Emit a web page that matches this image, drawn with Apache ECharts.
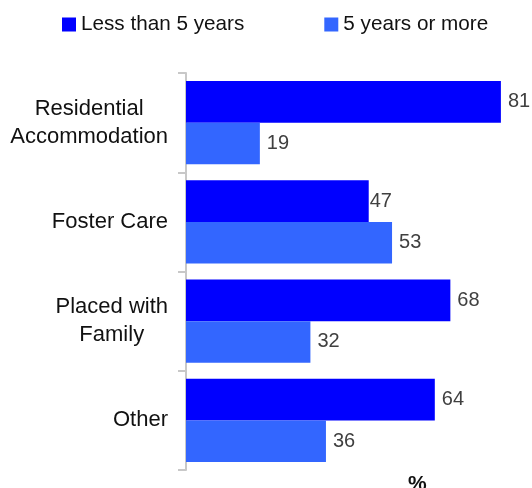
<!DOCTYPE html>
<html>
<head>
<meta charset="utf-8">
<script src="https://cdn.jsdelivr.net/npm/echarts@6/dist/echarts.min.js"></script>
<style>html,body{margin:0;padding:0;background:#fff;}#c{width:532px;height:488px;}</style>
</head>
<body>
<div id="c"></div>
<script>
const categories = ['Residential\nAccommodation', 'Foster Care', 'Placed with\nFamily', 'Other'];
const seriesNames = ['Less than 5 years', '5 years or more'];
const lessThan5 = [81, 47, 68, 64];
const fiveOrMore = [19, 53, 32, 36];
const unitLabel = '%';

const chart = echarts.init(document.getElementById('c'));
const FONT = '"Liberation Sans", Arial, sans-serif';
const valueLabel = {
  show: true, position: 'right', distance: 7,
  color: '#404040', fontSize: 20, fontFamily: FONT
};
chart.setOption({
  animation: false,
  textStyle: { fontFamily: FONT },
  legend: {
    left: 57, top: 9,
    itemWidth: 14, itemHeight: 14, itemGap: 80,
    icon: 'rect',
    textStyle: { fontSize: 20.7, color: '#111', fontFamily: FONT },
    data: seriesNames
  },
  grid: { left: 186, right: 0, top: 73, bottom: 18, containLabel: false },
  xAxis: {
    type: 'value', min: 0, max: 89, show: false,
    splitLine: { show: false }
  },
  yAxis: {
    type: 'category', inverse: true, data: categories, offset: 1,
    axisLine: { show: true, lineStyle: { color: '#c8c8c8', width: 2 } },
    axisTick: { show: true, length: 8, lineStyle: { color: '#c8c8c8', width: 2 } },
    axisLabel: {
      margin: 17, color: '#111', fontSize: 22, fontFamily: FONT, lineHeight: 28,
      formatter: v => v.split('\n').map(s => '{c|' + s + '}').join('\n'),
      rich: { c: { align: 'center', fontSize: 22, color: '#111', fontFamily: FONT, lineHeight: 28 } }
    }
  },
  graphic: [{
    type: 'text', left: 408, top: 474,
    style: { text: unitLabel, fontSize: 21, fontWeight: 'bold', fill: '#111', fontFamily: FONT }
  }],
  series: [
    {
      name: seriesNames[0], type: 'bar', data: lessThan5.map((v, i) => i === 1 ? { value: v, label: { distance: 1 } } : v),
      barGap: '0%', barCategoryGap: '16%',
      itemStyle: { color: '#0000ff' },
      label: valueLabel
    },
    {
      name: seriesNames[1], type: 'bar', data: fiveOrMore,
      barGap: '0%', barCategoryGap: '16%',
      itemStyle: { color: '#3366ff' },
      label: valueLabel
    }
  ]
});
</script>
</body>
</html>
